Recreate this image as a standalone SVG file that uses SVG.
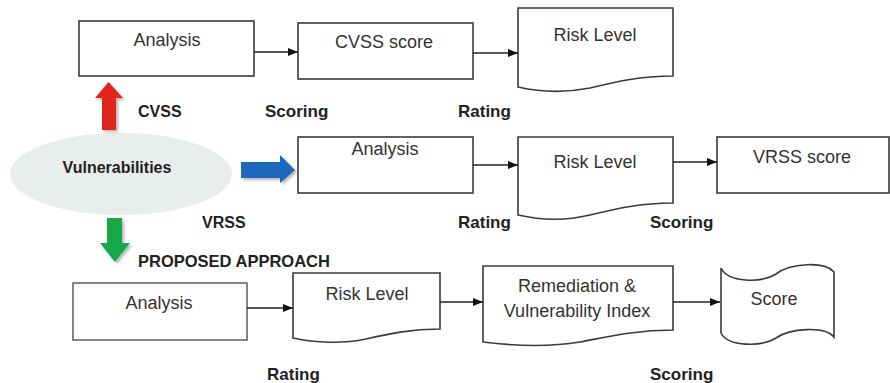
<svg xmlns="http://www.w3.org/2000/svg" width="890" height="383" viewBox="0 0 890 383">
<style>
.box{fill:#fff;stroke:#3a3a3a;stroke-width:1.6}
.t{font-family:"Liberation Sans",Arial,sans-serif;font-size:18px;fill:#333;text-anchor:middle}
.lb{font-family:"Liberation Sans",Arial,sans-serif;font-size:17px;font-weight:bold;fill:#222}
.con{stroke:#222;stroke-width:1.5;fill:none;marker-end:url(#ah)}
</style>
<defs>
<marker id="ah" markerWidth="10" markerHeight="8" refX="10" refY="4" orient="auto" markerUnits="userSpaceOnUse">
<path d="M0,0 L10,4 L0,8 Z" fill="#111"/>
</marker>
<filter id="sh" x="-30%" y="-30%" width="160%" height="160%">
<feDropShadow dx="2" dy="2" stdDeviation="1.5" flood-color="#000" flood-opacity="0.3"/>
</filter>
</defs>
<g id="vulnerabilities">
<ellipse cx="121" cy="174" rx="111" ry="41" fill="#e9eded"/>
<text x="117" y="173" class="lb" style="font-size:16px" text-anchor="middle">Vulnerabilities</text>
</g>
<g id="red-arrow"><path d="M102,130 L102,98 L95,98 L108.5,82 L123,98 L116,98 L116,130 Z" fill="#e0261f" filter="url(#sh)"/></g>
<g id="blue-arrow"><path d="M241,162 L280,162 L280,155 L295,170 L280,183 L280,178 L241,178 Z" fill="#1f68bd" filter="url(#sh)"/></g>
<g id="green-arrow"><path d="M107,218 L122,218 L122,243 L130,243 L115,262 L100,243 L107,243 Z" fill="#18a84a" filter="url(#sh)"/></g>
<g id="analysis1"><rect class="box" x="79" y="21" width="175" height="55"/><text class="t" x="167" y="46">Analysis</text></g>
<g id="cvss-score"><rect class="box" x="298" y="23" width="175" height="56"/><text class="t" x="384" y="48">CVSS score</text></g>
<g id="risk1"><path class="box" d="M518,8 L673,8 L673,76 C640,76 615,82 590,88 C565,93 540,92 518,87 Z"/><text class="t" x="595" y="41">Risk Level</text></g>
<g id="analysis2"><rect class="box" x="298" y="137" width="175" height="56"/><text class="t" x="385" y="155">Analysis</text></g>
<g id="risk2"><path class="box" d="M518,137 L673,137 L673,203 C640,203 615,209 590,215 C565,221 540,220 518,215 Z"/><text class="t" x="595" y="168">Risk Level</text></g>
<g id="vrss-score"><rect class="box" x="717" y="137" width="172" height="56"/><text class="t" x="802" y="163">VRSS score</text></g>
<g id="analysis3"><rect class="box" x="73" y="283" width="174" height="57" style="stroke:#666"/><text class="t" x="159" y="309">Analysis</text></g>
<g id="risk3"><path class="box" d="M293,273 L440,273 L440,329 C410,329 388,334 366,339 C343,344 315,343 293,338 Z"/><text class="t" x="367" y="300">Risk Level</text></g>
<g id="remediation"><path class="box" d="M483,266 L673,266 L673,330 C635,330 607,337 580,342 C550,347 515,346 483,342 Z"/><text class="t" x="577" y="292">Remediation &amp;</text><text class="t" x="577" y="317">Vulnerability Index</text></g>
<g id="score"><path class="box" d="M721,268 C728,283 762,283 776,274 C790,263 825,261 834,272 L834,337 C825,326 790,328 776,338 C762,347 728,347 721,333 Z"/><text class="t" x="774" y="305">Score</text></g>
<g id="connectors">
<line class="con" x1="254" y1="52" x2="298" y2="52"/>
<line class="con" x1="473" y1="53" x2="518" y2="53"/>
<line class="con" x1="473" y1="165" x2="518" y2="165"/>
<line class="con" x1="673" y1="162" x2="717" y2="162"/>
<line class="con" x1="247" y1="308" x2="293" y2="308"/>
<line class="con" x1="440" y1="302" x2="483" y2="302"/>
<line class="con" x1="673" y1="302" x2="720" y2="302"/>
</g>
<g id="labels">
<text class="lb" x="138" y="117" style="font-size:16px">CVSS</text>
<text class="lb" x="265" y="117">Scoring</text>
<text class="lb" x="458" y="117">Rating</text>
<text class="lb" x="202" y="228" style="font-size:16px">VRSS</text>
<text class="lb" x="458" y="228">Rating</text>
<text class="lb" x="650" y="228">Scoring</text>
<text class="lb" x="138" y="267" style="font-size:16.5px">PROPOSED APPROACH</text>
<text class="lb" x="267" y="380">Rating</text>
<text class="lb" x="650" y="380">Scoring</text>
</g>
</svg>
